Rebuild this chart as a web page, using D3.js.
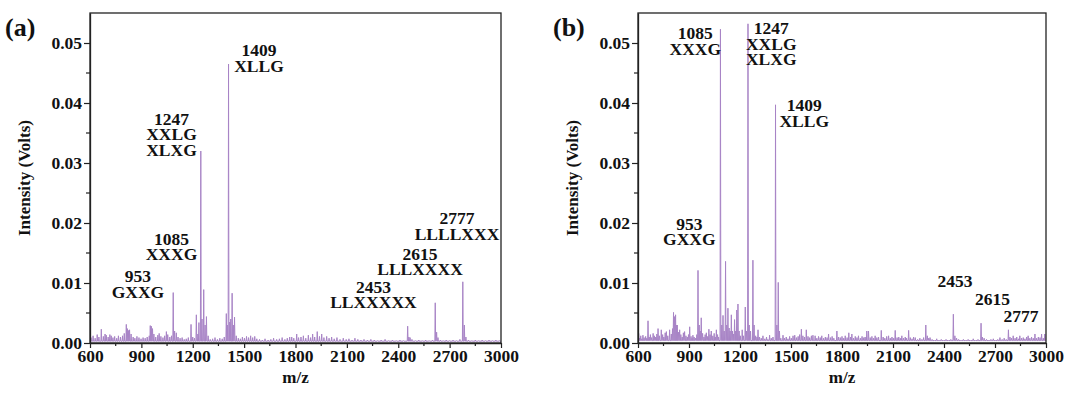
<!DOCTYPE html>
<html>
<head>
<meta charset="utf-8">
<script src="https://cdn.jsdelivr.net/npm/d3@7"></script>
<style>
  body { margin: 0; background: #fff; }
  text { font-family: "Liberation Serif", "Times New Roman", serif; font-weight: bold; fill: #111; }
</style>
</head>
<body>
<div id="chart"></div>
<script>
// peak lists [m/z, intensity in volts]
const peaksA = [
  [606,0.0009],[618,0.0012],[630,0.0008],[642,0.0014],[652,0.0010],[666,0.0023],[678,0.0011],[688,0.0015],[695,0.0013],
  [706,0.0010],[716,0.0014],[724,0.0012],[734,0.0009],[744,0.0011],[756,0.0008],[766,0.0012],[778,0.0010],[790,0.0012],
  [800,0.0016],[812,0.0031],[818,0.0024],[826,0.0021],[831,0.0022],[840,0.0015],[852,0.0010],[862,0.0008],[874,0.0011],
  [886,0.0009],[898,0.0007],[910,0.0009],[922,0.0008],[934,0.0010],[946,0.0012],[952,0.0029],[958,0.0028],[965,0.0024],
  [973,0.0015],[984,0.0010],[996,0.0013],[1004,0.0016],[1014,0.0011],[1026,0.0009],[1036,0.0012],[1046,0.0019],[1054,0.0014],
  [1066,0.0010],[1076,0.0012],[1086,0.0084],[1094,0.0020],[1104,0.0017],[1114,0.0010],[1126,0.0008],[1138,0.0009],[1150,0.0006],
  [1162,0.0007],[1174,0.0009],[1190,0.0031],[1200,0.0010],[1210,0.0008],[1221,0.0047],[1230,0.0015],[1236,0.0034],[1247,0.0320],
  [1254,0.0040],[1264,0.0089],[1272,0.0030],[1280,0.0044],[1290,0.0012],[1302,0.0006],[1316,0.0007],[1330,0.0009],[1344,0.0006],
  [1358,0.0008],[1372,0.0007],[1384,0.0010],[1396,0.0049],[1402,0.0030],[1409,0.0465],[1416,0.0035],[1422,0.0040],[1430,0.0083],
  [1437,0.0030],[1444,0.0043],[1454,0.0012],[1466,0.0008],[1478,0.0007],[1490,0.0010],[1502,0.0008],[1514,0.0011],[1526,0.0009],
  [1538,0.0012],[1550,0.0009],[1562,0.0011],[1574,0.0007],[1590,0.0006],[1606,0.0005],[1622,0.0007],[1640,0.0005],[1656,0.0006],
  [1672,0.0008],[1690,0.0006],[1706,0.0007],[1722,0.0009],[1738,0.0006],[1752,0.0008],[1766,0.0010],[1778,0.0010],[1790,0.0008],
  [1807,0.0015],[1818,0.0009],[1832,0.0010],[1846,0.0012],[1860,0.0008],[1875,0.0013],[1888,0.0009],[1900,0.0015],[1912,0.0010],
  [1927,0.0019],[1940,0.0011],[1953,0.0015],[1966,0.0009],[1982,0.0011],[1996,0.0008],[2011,0.0010],[2026,0.0007],[2042,0.0009],
  [2060,0.0006],[2079,0.0008],[2096,0.0006],[2112,0.0007],[2130,0.0005],[2147,0.0008],[2164,0.0006],[2182,0.0005],[2200,0.0006],
  [2220,0.0005],[2240,0.0006],[2260,0.0005],[2280,0.0004],[2300,0.0005],[2323,0.0006],[2344,0.0004],[2366,0.0005],[2388,0.0004],
  [2410,0.0005],[2430,0.0004],[2455,0.0028],[2462,0.0010],[2469,0.0009],[2480,0.0006],[2500,0.0004],[2520,0.0005],[2540,0.0004],
  [2560,0.0005],[2580,0.0004],[2600,0.0005],[2616,0.0067],[2624,0.0018],[2632,0.0009],[2646,0.0005],[2662,0.0004],[2680,0.0005],
  [2700,0.0004],[2720,0.0005],[2740,0.0004],[2760,0.0006],[2777,0.0102],[2786,0.0030],[2795,0.0010],[2810,0.0005],[2830,0.0004],
  [2850,0.0005],[2870,0.0004],[2890,0.0005],[2910,0.0004],[2930,0.0005],[2950,0.0004],[2970,0.0005],[2990,0.0004]
];

const peaksB = [
  [604,0.0016],[609,0.0008],[616,0.0012],[622,0.0007],[629,0.0013],[636,0.0009],[645,0.0011],[652,0.0008],[659,0.0037],
  [666,0.0010],[673,0.0014],[680,0.0009],[689,0.0016],[696,0.0012],[704,0.0010],[711,0.0015],[718,0.0024],[726,0.0012],
  [737,0.0022],[745,0.0014],[752,0.0010],[760,0.0017],[767,0.0019],[775,0.0012],[786,0.0022],[796,0.0015],[803,0.0024],
  [809,0.0051],[815,0.0044],[821,0.0047],[826,0.0030],[831,0.0030],[838,0.0018],[845,0.0022],[852,0.0014],[860,0.0010],
  [867,0.0017],[874,0.0019],[882,0.0012],[890,0.0010],[897,0.0014],[904,0.0027],[912,0.0011],[918,0.0008],[923,0.0013],
  [930,0.0010],[938,0.0008],[946,0.0014],[953,0.0121],[960,0.0030],[966,0.0020],[972,0.0042],[980,0.0016],[988,0.0010],
  [995,0.0014],[1002,0.0017],[1010,0.0011],[1017,0.0023],[1024,0.0014],[1031,0.0020],[1040,0.0012],[1048,0.0016],[1055,0.0010],
  [1061,0.0022],[1068,0.0014],[1074,0.0010],[1085,0.0523],[1093,0.0030],[1100,0.0046],[1107,0.0020],[1115,0.0136],[1122,0.0030],
  [1129,0.0058],[1136,0.0025],[1142,0.0020],[1149,0.0047],[1156,0.0020],[1162,0.0015],[1168,0.0039],[1175,0.0020],[1181,0.0055],
  [1188,0.0065],[1195,0.0020],[1202,0.0012],[1213,0.0022],[1220,0.0012],[1231,0.0060],[1238,0.0020],[1247,0.0532],[1254,0.0030],
  [1262,0.0020],[1276,0.0138],[1283,0.0030],[1292,0.0012],[1300,0.0010],[1306,0.0022],[1315,0.0010],[1325,0.0008],[1335,0.0012],
  [1346,0.0007],[1356,0.0010],[1364,0.0006],[1374,0.0013],[1384,0.0008],[1394,0.0010],[1409,0.0397],[1417,0.0030],[1425,0.0101],
  [1432,0.0020],[1440,0.0008],[1453,0.0013],[1462,0.0008],[1472,0.0010],[1482,0.0007],[1492,0.0011],[1502,0.0008],[1512,0.0012],
  [1522,0.0013],[1532,0.0009],[1542,0.0011],[1551,0.0014],[1561,0.0023],[1570,0.0012],[1580,0.0010],[1590,0.0022],[1600,0.0011],
  [1610,0.0009],[1620,0.0012],[1629,0.0013],[1642,0.0012],[1652,0.0008],[1662,0.0011],[1672,0.0009],[1681,0.0012],[1692,0.0008],
  [1702,0.0010],[1712,0.0009],[1721,0.0015],[1732,0.0009],[1742,0.0011],[1752,0.0008],[1770,0.0020],[1780,0.0010],[1790,0.0009],
  [1800,0.0011],[1810,0.0008],[1819,0.0012],[1830,0.0009],[1840,0.0017],[1850,0.0010],[1858,0.0015],[1868,0.0008],[1878,0.0011],
  [1888,0.0009],[1897,0.0012],[1908,0.0008],[1918,0.0011],[1928,0.0009],[1936,0.0010],[1946,0.0020],[1956,0.0020],[1966,0.0009],
  [1976,0.0011],[1986,0.0008],[1995,0.0012],[2005,0.0009],[2015,0.0010],[2031,0.0021],[2042,0.0010],[2052,0.0008],[2063,0.0011],
  [2074,0.0012],[2084,0.0008],[2094,0.0010],[2104,0.0008],[2113,0.0021],[2124,0.0009],[2134,0.0010],[2143,0.0008],[2152,0.0012],
  [2162,0.0008],[2172,0.0010],[2180,0.0008],[2192,0.0021],[2202,0.0009],[2212,0.0007],[2221,0.0010],[2231,0.0009],[2245,0.0006],
  [2258,0.0008],[2270,0.0006],[2280,0.0009],[2293,0.0030],[2302,0.0012],[2310,0.0008],[2318,0.0009],[2330,0.0006],[2344,0.0005],
  [2357,0.0007],[2370,0.0005],[2384,0.0006],[2398,0.0005],[2412,0.0006],[2426,0.0005],[2440,0.0006],[2455,0.0048],[2464,0.0012],
  [2474,0.0008],[2486,0.0006],[2500,0.0005],[2514,0.0006],[2528,0.0005],[2542,0.0006],[2556,0.0005],[2572,0.0007],[2586,0.0005],
  [2600,0.0006],[2618,0.0033],[2626,0.0010],[2636,0.0008],[2650,0.0006],[2664,0.0005],[2676,0.0006],[2690,0.0007],[2702,0.0005],
  [2716,0.0006],[2729,0.0009],[2742,0.0006],[2754,0.0008],[2766,0.0006],[2779,0.0022],[2788,0.0010],[2797,0.0008],[2807,0.0012],
  [2818,0.0008],[2828,0.0010],[2838,0.0007],[2846,0.0012],[2856,0.0008],[2866,0.0009],[2876,0.0007],[2886,0.0010],[2895,0.0012],
  [2905,0.0008],[2915,0.0010],[2925,0.0008],[2935,0.0015],[2945,0.0008],[2955,0.0010],[2965,0.0009],[2974,0.0015],[2984,0.0008],
  [2993,0.0015]
];

// peak annotations, anchored (centre of text, first baseline) in data units
const labelsA = [
  {lines: ["1409", "XLLG"], mz: 1587, v: 0.0478},
  {lines: ["1247", "XXLG", "XLXG"], mz: 1076, v: 0.0364},
  {lines: ["1085", "XXXG"], mz: 1076, v: 0.0164},
  {lines: ["953", "GXXG"], mz: 880, v: 0.0101},
  {lines: ["2777", "LLLLXXX"], mz: 2743, v: 0.0198},
  {lines: ["2615", "LLLXXXX"], mz: 2527, v: 0.0139},
  {lines: ["2453", "LLXXXXX"], mz: 2255, v: 0.0084}
];
const labelsB = [
  {lines: ["1085", "XXXG"], mz: 937, v: 0.0506},
  {lines: ["1247", "XXLG", "XLXG"], mz: 1384, v: 0.0515},
  {lines: ["1409", "XLLG"], mz: 1578, v: 0.0386},
  {lines: ["953", "GXXG"], mz: 902, v: 0.0189},
  {lines: ["2453"], mz: 2465, v: 0.0093},
  {lines: ["2615"], mz: 2686, v: 0.0063},
  {lines: ["2777"], mz: 2853, v: 0.0035}
];

const xTicks = [600, 900, 1200, 1500, 1800, 2100, 2400, 2700, 3000];
const xMinor = [750, 1050, 1350, 1650, 1950, 2250, 2550, 2850];
const yTicks = [0, 0.01, 0.02, 0.03, 0.04, 0.05];
const yMinor = [0.005, 0.015, 0.025, 0.035, 0.045];

const W = 1068, H = 396;
const svg = d3.select("#chart").append("svg")
  .attr("width", W).attr("height", H);

function drawPanel(tag, peaks, labels, left, right, base) {
  const top = 13, bottom = 343;
  const x = d3.scaleLinear().domain([600, 3000]).range([left, right]);
  const y = d3.scaleLinear().domain([0, 0.055]).range([bottom, top]);
  const g = svg.append("g");

  const clipId = "clip-" + tag;
  svg.append("clipPath").attr("id", clipId)
    .append("rect").attr("x", left).attr("y", top)
    .attr("width", right - left).attr("height", bottom - top);

  // spectrum: each peak drawn as a thin spike off the baseline
  const hw = 2.4;
  const pts = [[600, base]];
  peaks.forEach(([m, v]) => {
    pts.push([m - hw, base], [m, v], [m + hw, base]);
  });
  pts.push([3000, base]);
  const line = d3.line().x(d => x(d[0])).y(d => y(d[1]));
  g.append("path")
    .attr("clip-path", `url(#${clipId})`)
    .attr("d", line(pts))
    .attr("fill", "none")
    .attr("stroke", "#a884c6")
    .attr("stroke-width", 1)
    .attr("stroke-linejoin", "round");

  // frame
  g.append("rect")
    .attr("x", left).attr("y", top)
    .attr("width", right - left).attr("height", bottom - top)
    .attr("fill", "none").attr("stroke", "#222").attr("stroke-width", 1.3);

  const xAxis = g.append("g").attr("transform", `translate(0,${bottom})`)
    .call(d3.axisBottom(x).tickValues(xTicks).tickFormat(d3.format("d"))
      .tickSize(5).tickPadding(2).tickSizeOuter(0));
  xAxis.append("g").selectAll("line").data(xMinor).join("line")
    .attr("x1", d => x(d)).attr("x2", d => x(d)).attr("y1", 0).attr("y2", 3);

  const yAxis = g.append("g").attr("transform", `translate(${left},0)`)
    .call(d3.axisLeft(y).tickValues(yTicks).tickFormat(d3.format(".2f"))
      .tickSize(6).tickPadding(2).tickSizeOuter(0));
  yAxis.append("g").selectAll("line").data(yMinor).join("line")
    .attr("x1", 0).attr("x2", -4).attr("y1", d => y(d)).attr("y2", d => y(d));

  [xAxis, yAxis].forEach(a => {
    a.select(".domain").attr("stroke", "#222").attr("stroke-width", 1.3);
    a.selectAll("line").attr("stroke", "#222").attr("stroke-width", 1.2);
    a.selectAll("text").attr("font-family", "Liberation Serif, Times New Roman, serif")
      .attr("font-weight", "bold").attr("font-size", 17.5).attr("fill", "#111");
  });

  // annotations
  labels.forEach(l => {
    const t = g.append("text")
      .attr("text-anchor", "middle")
      .attr("font-size", 17.5)
      .attr("x", x(l.mz)).attr("y", y(l.v));
    l.lines.forEach((s, i) => {
      t.append("tspan").attr("x", x(l.mz)).attr("dy", i === 0 ? 0 : 15.5).text(s);
    });
  });

  // axis titles
  g.append("text")
    .attr("text-anchor", "middle")
    .attr("font-size", 17)
    .attr("x", (left + right) / 2).attr("y", 383)
    .text("m/z");
  g.append("text")
    .attr("text-anchor", "middle")
    .attr("font-size", 17)
    .attr("transform", `translate(${left - 60},${(top + bottom) / 2}) rotate(-90)`)
    .text("Intensity (Volts)");

  g.append("text")
    .attr("font-size", 26)
    .attr("x", left - 85).attr("y", 36)
    .text(`(${tag})`);
}

drawPanel("a", peaksA, labelsA, 90, 501, 0.0003);
drawPanel("b", peaksB, labelsB, 638, 1046, 0.0004);
</script>
</body>
</html>
